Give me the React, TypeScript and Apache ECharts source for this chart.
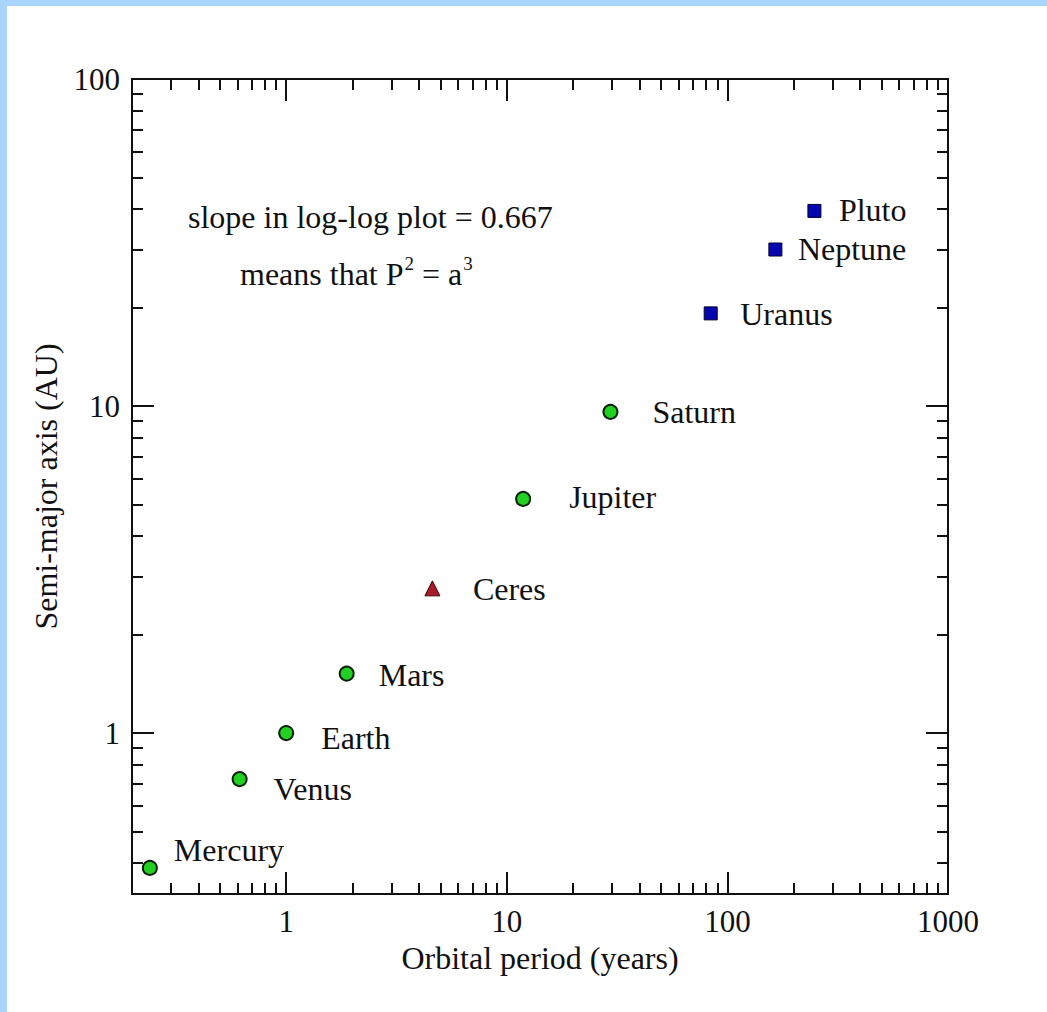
import React, { useEffect, useRef } from 'react';
import * as echarts from 'echarts';

// ---- data ----
const planetNames = ['Mercury', 'Venus', 'Earth', 'Mars', 'Jupiter', 'Saturn'];
const planetPeriods = [0.241, 0.615, 1.0, 1.88, 11.86, 29.5];
const planetAxes = [0.387, 0.723, 1.0, 1.52, 5.2, 9.6];

const dwarfNames = ['Ceres'];
const dwarfPeriods = [4.6];
const dwarfAxes = [2.77];

const outerNames = ['Uranus', 'Neptune', 'Pluto'];
const outerPeriods = [84, 165, 248];
const outerAxes = [19.2, 30.1, 39.5];

const xMajorTicks = [1, 10, 100, 1000];
const xMinorTicks = [
  0.3, 0.4, 0.5, 0.6, 0.7, 0.8, 0.9,
  2, 3, 4, 5, 6, 7, 8, 9,
  20, 30, 40, 50, 60, 70, 80, 90,
  200, 300, 400, 500, 600, 700, 800, 900,
];
const yMajorTicks = [1, 10, 100];
const yMinorTicks = [
  0.4, 0.5, 0.6, 0.7, 0.8, 0.9,
  2, 3, 4, 5, 6, 7, 8, 9,
  20, 30, 40, 50, 60, 70, 80, 90,
];

const xTitle = 'Orbital period (years)';
const yTitle = 'Semi-major axis (AU)';

// ---- styling ----
const FONT = 'Liberation Serif';
const INK = '#111111';
const LABEL_OFFSET: Record<string, [number, number]> = {
  Mercury: [23, -18],
  Venus: [33, 10],
  Earth: [34, 5],
  Mars: [31, 1],
  Ceres: [40, 1],
  Jupiter: [45, -2],
  Saturn: [41, 0],
  Uranus: [29, 1],
  Neptune: [22, -1],
  Pluto: [24, -1],
};

function points(names: string[], xs: number[], ys: number[], size: number) {
  return names.map((n, i) => {
    const off = LABEL_OFFSET[n] || [10, 0];
    return {
      name: n,
      value: [xs[i], ys[i]],
      label: { offset: [off[0] - size / 2, off[1]] },
    };
  });
}

function makeAxis(
  dim: 'x' | 'y',
  position: string,
  ticks: number[],
  len: number,
  withLabels: boolean,
  name?: string
) {
  const isX = dim === 'x';
  return {
    type: 'log',
    logBase: 10,
    gridIndex: 0,
    position,
    min: isX ? 0.2 : 0.322,
    max: isX ? 1000 : 100,
    name: name || '',
    nameLocation: 'middle',
    nameGap: isX ? 41 : 70,
    nameTextStyle: { fontFamily: FONT, fontSize: 32, color: INK },
    axisLine: { show: false },
    splitLine: { show: false },
    minorTick: { show: false },
    axisTick: {
      show: true,
      inside: true,
      length: len,
      customValues: ticks,
      lineStyle: { color: INK, width: 2 },
    },
    axisLabel: withLabels
      ? {
          show: true,
          customValues: ticks,
          margin: 12,
          fontFamily: FONT,
          fontSize: 31,
          color: INK,
          formatter: (v: number) => String(v),
        }
      : { show: false },
  };
}

const labelStyle = {
  show: true,
  position: 'right',
  distance: 0,
  formatter: '{b}',
  fontFamily: FONT,
  fontSize: 32,
  color: INK,
};

export default function App() {
  const ref = useRef<HTMLDivElement>(null);
  useEffect(() => {
    document.body.style.margin = '0';
    const chart = echarts.init(ref.current!, null, { renderer: 'svg' });
    const option = {
      animation: false,
      backgroundColor: '#ffffff',
      grid: {
        left: 132,
        top: 79,
        right: 99,
        bottom: 118,
        show: true,
        borderColor: INK,
        borderWidth: 2,
        backgroundColor: 'transparent',
      },
      xAxis: [
        makeAxis('x', 'bottom', xMajorTicks, 22, true, xTitle),
        makeAxis('x', 'bottom', xMinorTicks, 11, false),
        makeAxis('x', 'top', xMajorTicks, 22, false),
        makeAxis('x', 'top', xMinorTicks, 11, false),
      ],
      yAxis: [
        makeAxis('y', 'left', yMajorTicks, 22, true, yTitle),
        makeAxis('y', 'left', yMinorTicks, 11, false),
        makeAxis('y', 'right', yMajorTicks, 22, false),
        makeAxis('y', 'right', yMinorTicks, 11, false),
      ],
      graphic: [
        { type: 'rect', left: 0, top: 0, shape: { width: 1047, height: 6 }, style: { fill: '#a8d4fe' } },
        { type: 'rect', left: 0, top: 0, shape: { width: 7, height: 1012 }, style: { fill: '#a8d4fe' } },
        {
          type: 'text',
          left: 188,
          top: 201,
          style: {
            text: 'slope in log-log plot = 0.667',
            font: `32px "${FONT}"`,
            fill: INK,
          },
        },
        {
          type: 'text',
          left: 240,
          top: 254,
          style: {
            text: '{t|means that P}{s|2}{t| = a}{s|3}',
            fill: INK,
            rich: {
              t: { fontFamily: FONT, fontSize: 32, lineHeight: 36, verticalAlign: 'bottom' },
              s: { fontFamily: FONT, fontSize: 19, lineHeight: 36, verticalAlign: 'top', padding: [0, 0, 0, 1] },
            },
          },
        },
      ],
      series: [
        {
          type: 'scatter',
          name: 'planets',
          xAxisIndex: 0,
          yAxisIndex: 0,
          symbol: 'circle',
          symbolSize: 14,
          itemStyle: { color: '#22d022', borderColor: '#0a200a', borderWidth: 2, opacity: 1 },
          label: labelStyle,
          data: points(planetNames, planetPeriods, planetAxes, 14),
        },
        {
          type: 'scatter',
          name: 'dwarf',
          xAxisIndex: 0,
          yAxisIndex: 0,
          symbol: 'triangle',
          symbolSize: 15,
          itemStyle: { color: '#a81c28', borderColor: '#3a0808', borderWidth: 1, opacity: 1 },
          label: labelStyle,
          data: points(dwarfNames, dwarfPeriods, dwarfAxes, 15),
        },
        {
          type: 'scatter',
          name: 'outer',
          xAxisIndex: 0,
          yAxisIndex: 0,
          symbol: 'rect',
          symbolSize: 13,
          itemStyle: { color: '#0606b0', borderColor: '#000030', borderWidth: 1, opacity: 1 },
          label: labelStyle,
          data: points(outerNames, outerPeriods, outerAxes, 13),
        },
      ],
    };
    chart.setOption(option as any);
    return () => chart.dispose();
  }, []);
  return <div ref={ref} style={{ width: 1047, height: 1012 }} />;
}
